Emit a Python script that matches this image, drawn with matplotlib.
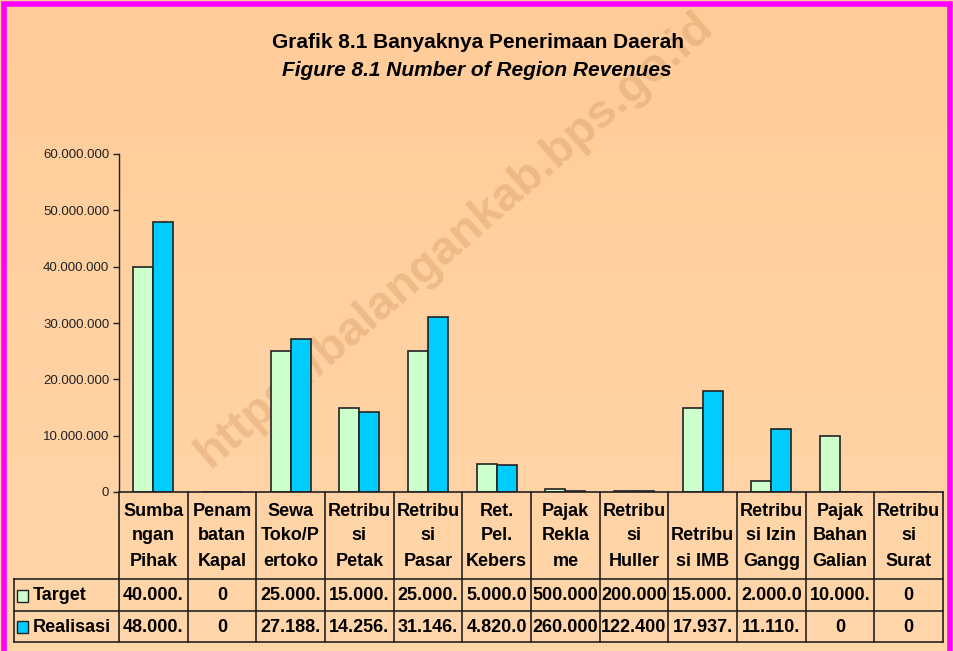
import numpy as np
import matplotlib
matplotlib.use("Agg")
import matplotlib.pyplot as plt
from matplotlib.transforms import blended_transform_factory
from matplotlib.lines import Line2D
from matplotlib.patches import Rectangle

plt.rcParams["font.family"] = ["Liberation Sans", "DejaVu Sans"]

# ---- data ----
header_lines = [
    ["Sumba", "ngan", "Pihak"],
    ["Penam", "batan", "Kapal"],
    ["Sewa", "Toko/P", "ertoko"],
    ["Retribu", "si", "Petak"],
    ["Retribu", "si", "Pasar"],
    ["Ret.", "Pel.", "Kebers"],
    ["Pajak", "Rekla", "me"],
    ["Retribu", "si", "Huller"],
    ["Retribu", "si IMB"],
    ["Retribu", "si Izin", "Gangg"],
    ["Pajak", "Bahan", "Galian"],
    ["Retribu", "si", "Surat"],
]
target = [40000000, 0, 25000000, 15000000, 25000000, 5000000,
          500000, 200000, 15000000, 2000000, 10000000, 0]
realisasi = [48000000, 0, 27188000, 14256000, 31146000, 4820000,
             260000, 122400, 17937000, 11110000, 0, 0]
series_names = ["Target", "Realisasi"]
series_colors = ["#CCFFCC", "#00CCFF"]
yticks = [0, 10000000, 20000000, 30000000, 40000000, 50000000, 60000000]


def fmt(v):
    return f"{v:,}".replace(",", ".")


def cell(v):
    # the table in the source cuts the numbers off at 7 characters
    return fmt(v)[:7]


W, H = 954, 651
fig = plt.figure(figsize=(W / 100, H / 100), dpi=100)

# background gradient
bg = fig.add_axes([0, 0, 1, 1], zorder=-10)
grad = np.linspace(0, 1, 256).reshape(-1, 1)
top_c = np.array([255, 204, 153]) / 255
bot_c = np.array([255, 214, 170]) / 255
img = top_c[None, None, :] * (1 - grad[:, :, None]) + bot_c[None, None, :] * grad[:, :, None]
bg.imshow(img, aspect="auto", extent=[0, 1, 0, 1])
bg.set_axis_off()
# magenta frame (no bottom edge visible)
bg.add_patch(Rectangle((4.5 / W, -0.05), (W - 8.5) / W, 1.05 - 4.5 / H,
                       transform=bg.transAxes, fill=False,
                       edgecolor="#FF00FF", linewidth=4, clip_on=False))

# watermark
fig.text(455 / W, 1 - 240 / H, "https://balangankab.bps.go.id", rotation=41,
         ha="center", va="center", fontsize=34, fontweight="bold",
         color="#C8894F", alpha=0.3, zorder=-5)

# titles
fig.text(478 / W, 1 - 42 / H, "Grafik 8.1 Banyaknya Penerimaan Daerah",
         ha="center", va="center", fontsize=15, fontweight="bold")
fig.text(477 / W, 1 - 71 / H, "Figure 8.1 Number of Region Revenues",
         ha="center", va="center", fontsize=15, fontweight="bold", style="italic")

# plot area
x0, x1, ytop, ybot = 119, 943, 154, 492
ax = fig.add_axes([x0 / W, 1 - ybot / H, (x1 - x0) / W, (ybot - ytop) / H])
ax.set_facecolor("none")

n = len(target)
x = np.arange(n)
bw = 0.29
ax.bar(x - bw / 2, target, bw, color=series_colors[0], edgecolor="#222222", linewidth=1.2)
ax.bar(x + bw / 2, realisasi, bw, color=series_colors[1], edgecolor="#222222", linewidth=1.2)

ax.set_xlim(-0.5, n - 0.5)
ax.set_ylim(0, 60000000)
ax.set_yticks(yticks)
ax.set_yticklabels([fmt(v) for v in yticks], fontsize=9.5, color="#222222")
ax.tick_params(axis="y", direction="out", length=4, width=1, color="#222222", pad=3)
ax.set_xticks([])
for s in ["top", "right"]:
    ax.spines[s].set_visible(False)
ax.spines["left"].set_color("#222222")
ax.spines["bottom"].set_color("#222222")
ax.spines["left"].set_linewidth(1)
ax.spines["bottom"].set_linewidth(1.2)

# ---- data table under the chart ----
ph = ybot - ytop


def ay(p):
    return (ybot - p) / ph


tr = blended_transform_factory(ax.transData, ax.transAxes)
trf = blended_transform_factory(fig.transFigure, ax.transAxes)
lc = "#222222"
lw = 1.2
row1, row2, row3 = ay(579), ay(611), ay(642)

for b in np.arange(n + 1) - 0.5:
    ax.add_line(Line2D([b, b], [0, row3], transform=tr, color=lc, lw=lw, clip_on=False))
for yy in [row1, row2, row3]:
    ax.add_line(Line2D([14 / W, x1 / W], [yy, yy], transform=trf, color=lc, lw=lw, clip_on=False))
ax.add_line(Line2D([14 / W, 14 / W], [row1, row3], transform=trf, color=lc, lw=lw, clip_on=False))

# header text, bottom aligned
line_y = [561, 536, 511]
for i, lines in enumerate(header_lines):
    for k, t in enumerate(reversed(lines)):
        ax.text(i, ay(line_y[k]), t, transform=tr, ha="center", va="center",
                fontsize=13, fontweight="bold", clip_on=False)

# value rows
row_centers = [ay(596), ay(627)]
for r, vals in enumerate([target, realisasi]):
    for i, v in enumerate(vals):
        ax.text(i, row_centers[r], cell(v), transform=tr, ha="center", va="center",
                fontsize=13, fontweight="bold", clip_on=False)
    # legend key
    ax.add_patch(Rectangle((17 / W, row_centers[r] - 6 / ph), 11 / W, 12 / ph,
                           transform=trf, facecolor=series_colors[r],
                           edgecolor="#222222", linewidth=1, clip_on=False))
    ax.text(33 / W, row_centers[r], series_names[r], transform=trf, ha="left",
            va="center", fontsize=13, fontweight="bold", clip_on=False)

fig.savefig("out.png", dpi=100)
